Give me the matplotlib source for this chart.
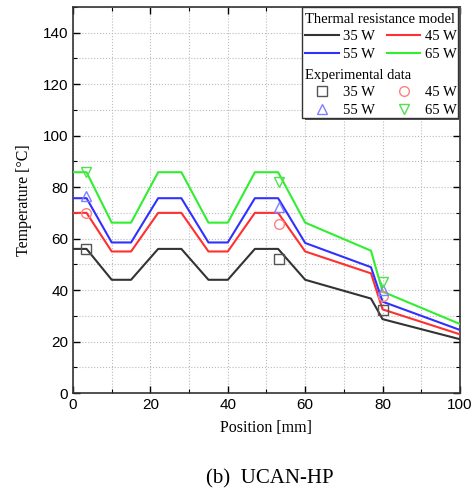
import matplotlib
matplotlib.use("Agg")
import matplotlib.pyplot as plt
from matplotlib.patches import Rectangle
from matplotlib.ticker import MultipleLocator

# model curves (thermal resistance model)
pos = [0, 3.5, 10, 15, 22, 28, 35, 40, 47, 53, 60, 77, 80, 100]
t35 = [56, 56, 44, 44, 56, 56, 44, 44, 56, 56, 44, 36.7, 28.7, 20.9]
t45 = [70, 70, 55, 55, 70, 70, 55, 55, 70, 70, 55, 46.5, 32.5, 22.8]
t55 = [75.7, 75.7, 58.5, 58.5, 75.7, 75.7, 58.5, 58.5, 75.7, 75.7, 58.3, 48.9, 35.5, 24.5]
t65 = [85.8, 85.8, 66.2, 66.2, 85.8, 85.8, 66.2, 66.2, 85.8, 85.8, 66.2, 55.3, 39.4, 26.8]

# experimental data
exp_pos = [3.3, 53.2, 80.2]
e35 = [56, 52.1, 32.2]
e45 = [69.9, 65.7, 37.7]
e55 = [76.4, 72.2, 40]
e65 = [85.8, 82, 43.3]

labels = ["35 W", "45 W", "55 W", "65 W"]

serif = "Liberation Serif"
sans = "Liberation Sans"

fig = plt.figure(figsize=(4.75, 4.93), dpi=100)
ax = fig.add_axes([0.1537, 0.2028, 0.8147, 0.783])

line_cols = ["#333333", "#ff3030", "#3030ff", "#30ee30"]
mk_cols = ["#555555", "#ff8080", "#8080ff", "#50e050"]
markers = ["s", "o", "^", "v"]

lines = []
for y, c, lab in zip([t35, t45, t55, t65], line_cols, labels):
    l, = ax.plot(pos, y, color=c, lw=1.5, label=lab, zorder=3)
    lines.append(l)

pts = []
for y, c, m, lab in zip([e35, e45, e55, e65], mk_cols, markers, labels):
    p, = ax.plot(exp_pos, y, ls="none", marker=m, ms=7, mfc="none", mec=c, mew=1.0, label=lab, zorder=4)
    pts.append(p)

ax.set_xlim(0, 100)
ax.set_ylim(0, 150)
ax.xaxis.set_major_locator(MultipleLocator(20))
ax.xaxis.set_minor_locator(MultipleLocator(10))
ax.yaxis.set_major_locator(MultipleLocator(20))
ax.yaxis.set_minor_locator(MultipleLocator(10))
ax.set_yticks([0, 20, 40, 60, 80, 100, 120, 140])
ax.grid(which="both", ls=":", color="#bbbbbb", lw=0.8)
ax.tick_params(which="both", direction="in", top=True, right=True, labelsize=11)
ax.tick_params(which="major", length=5, width=1)
ax.tick_params(which="minor", length=3, width=0.8)
for lab in ax.get_xticklabels() + ax.get_yticklabels():
    lab.set_fontfamily(sans)
for s in ax.spines.values():
    s.set_linewidth(1.2)
    s.set_color("#333333")

ax.set_xlabel("Position [mm]", fontfamily=serif, fontsize=11.5, labelpad=6)
ax.set_ylabel("Temperature [°C]", fontfamily=serif, fontsize=11.5, labelpad=8)

# legend frame with shadow
ax.add_patch(Rectangle((0.600, 0.708), 0.403, 0.292, transform=ax.transAxes,
                       facecolor="#555555", edgecolor="none", zorder=5, clip_on=False))
ax.add_patch(Rectangle((0.592, 0.713), 0.403, 0.287, transform=ax.transAxes,
                       facecolor="white", edgecolor="#333333", lw=1, zorder=6, clip_on=False))

lp = dict(frameon=False, ncol=2, prop={"family": serif, "size": 10.5},
          handletextpad=0.3, columnspacing=0.8, labelspacing=0.3,
          borderaxespad=0, borderpad=0.2, alignment="left")
leg1 = ax.legend([lines[0], lines[2], lines[1], lines[3]],
                 [labels[0], labels[2], labels[1], labels[3]],
                 loc="upper left", bbox_to_anchor=(0.593, 0.993),
                 title="Thermal resistance model", handlelength=2.3, **lp)
leg1.get_title().set_fontfamily(serif)
leg1.get_title().set_fontsize(10.5)
leg1.set_zorder(7)
ax.add_artist(leg1)
leg2 = ax.legend([pts[0], pts[2], pts[1], pts[3]],
                 [labels[0], labels[2], labels[1], labels[3]],
                 loc="upper left", bbox_to_anchor=(0.593, 0.848),
                 title="Experimental data", handlelength=2.3, **lp)
leg2.get_title().set_fontfamily(serif)
leg2.get_title().set_fontsize(10.5)
leg2.set_zorder(7)

fig.text(0.568, 0.028, "(b)  UCAN-HP", fontfamily=serif, fontsize=15, ha="center", va="center")

fig.savefig("out.png", dpi=100)
